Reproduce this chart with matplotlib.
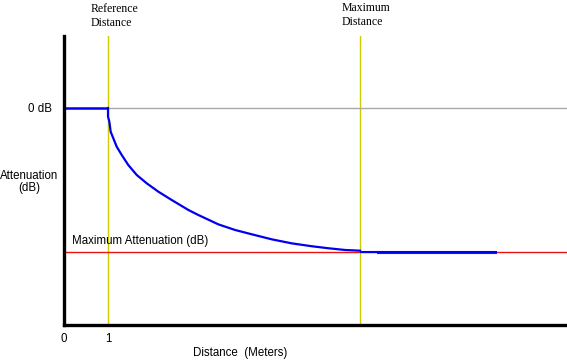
import numpy as np
import matplotlib.pyplot as plt

# distance in units of the reference distance, attenuation normalised to max = -1
ref_dist = 1.0
max_dist = 6.73
flat_end = 9.84
curve_x = [1.0, 1.0, 1.030, 1.061, 1.120, 1.198, 1.311, 1.461, 1.652, 1.880, 2.143,
           2.448, 2.825, 3.052, 3.507, 3.886, 4.266, 4.720, 5.175, 5.630, 6.007,
           6.386, 6.727]
curve_y = [0.0, -0.06, -0.095, -0.165, -0.210, -0.269, -0.326, -0.396, -0.465, -0.523,
           -0.581, -0.639, -0.708, -0.743, -0.808, -0.847, -0.877, -0.912, -0.940,
           -0.960, -0.974, -0.986, -0.991]
max_atten = -1.0
xticks = [0, 1]
xtick_labels = ['0', '1']

W, H = 567, 363
fig = plt.figure(figsize=(W / 100, H / 100), dpi=100)
ax = fig.add_axes([64 / W, (H - 325) / H, (W - 64) / W, (325 - 36) / H])
ax.set_xlim(0, 11.43)
ax.set_ylim(-1.507, 0.5)

sans = 'Liberation Sans'
serif = 'Liberation Serif'
fs = 8.3

# reference lines
ax.axvline(ref_dist, color='#cccc00', lw=1)
ax.axvline(max_dist, color='#cccc00', lw=1)
ax.plot([ref_dist, 11.43], [0, 0], color='#a8a8a8', lw=1)
ax.axhline(max_atten, color='#ee1111', lw=1)

# attenuation curve
ax.plot([0, ref_dist], [0, 0], color='#0000ee', lw=1.8, solid_capstyle='butt')
ax.plot(curve_x, curve_y, color='#0000ee', lw=1.6)
ax.plot([7.11, flat_end], [-1.008, -1.008], color='#661133', lw=1.5, solid_capstyle='butt')
ax.plot([max_dist, flat_end], [-0.997, -0.997], color='#0000ee', lw=1.5, solid_capstyle='butt')

for s in ['top', 'right']:
    ax.spines[s].set_visible(False)
for s in ['left', 'bottom']:
    ax.spines[s].set_linewidth(2.4)
    ax.spines[s].set_color('black')

ax.set_xticks(xticks, xtick_labels, fontname=sans, fontsize=fs)
ax.set_yticks([0], ['0 dB'], fontname=sans, fontsize=fs)
ax.tick_params(axis='x', length=0, pad=6)
ax.tick_params(axis='y', length=0, pad=9)

ax.text(0.18, max_atten + 0.035, 'Maximum Attenuation (dB)', fontname=sans,
        fontsize=fs, va='bottom')

fig.text(29 / W, 1 - 182 / H, 'Attenuation\n(dB)', fontname=sans, fontsize=fs,
         ha='center', va='center', linespacing=1.0)
fig.text(240 / W, 1 - 353 / H, 'Distance  (Meters)', fontname=sans, fontsize=fs,
         ha='center', va='center')
fig.text(91 / W, 1 - 3 / H, 'Reference\nDistance', fontname=serif, fontsize=8.5,
         ha='left', va='top', linespacing=1.2)
fig.text(342 / W, 1 - 2 / H, 'Maximum\nDistance', fontname=serif, fontsize=8.5,
         ha='left', va='top', linespacing=1.2)

fig.savefig('out.png', dpi=100)
